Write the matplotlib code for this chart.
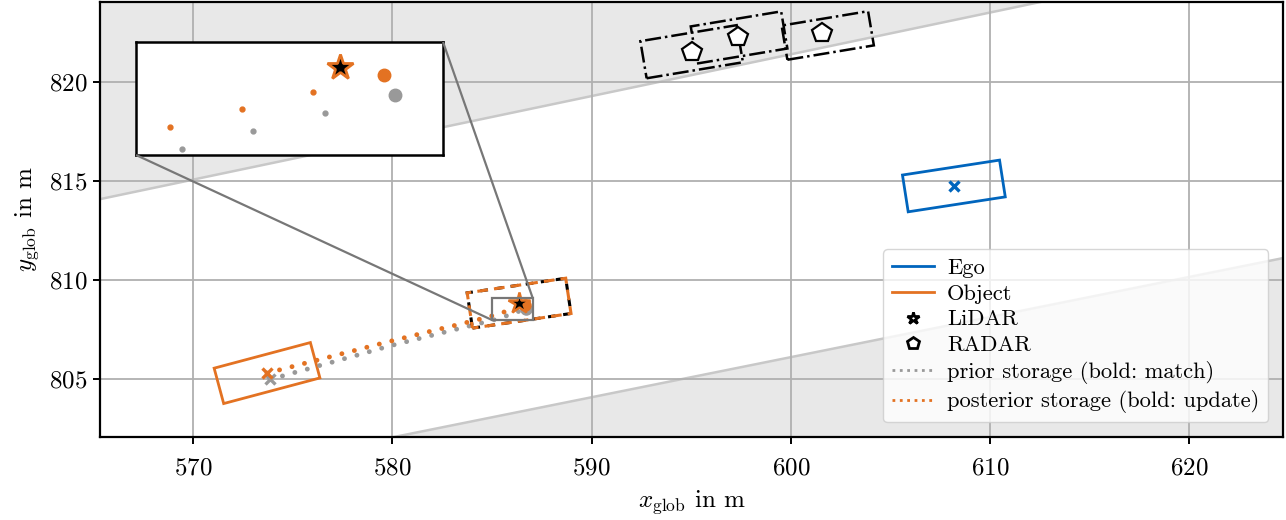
import matplotlib
matplotlib.use("Agg")
import matplotlib.pyplot as plt
from matplotlib.patches import Rectangle
from matplotlib.lines import Line2D
from mpl_toolkits.axes_grid1.inset_locator import mark_inset

plt.rcParams.update({
    "font.family": "serif",
    "font.serif": ["cmr10"],
    "mathtext.fontset": "cm",
    "axes.formatter.use_mathtext": True,
    "font.size": 18,
})

TUM_BLUE = "#0065BD"
TUM_ORANGE = "#E37222"
TUM_GRAY = "#999999"

# ---- scene data (global frame, metres) ----
x_lim = (565.33, 624.70)
y_lim = (802.07, 824.04)
x_ticks = [570, 580, 590, 600, 610, 620]
y_ticks = [805, 810, 815, 820]

# road boundaries
upper_edge_x = [560.0, 630.0]
upper_edge_y = [812.96, 827.73]
lower_edge_x = [575.0, 630.0]
lower_edge_y = [801.04, 812.18]

# ego vehicle: centre, length, width, heading in degrees
ego_center = (608.18, 814.75)
ego_size = (4.93, 1.88)
ego_heading = 8.8

# tracked object
obj_center = (573.71, 805.30)
obj_size = (5.00, 1.85)
obj_heading = 15.0
obj_prior_center = (573.86, 804.98)

# LiDAR detection
lidar_center = (586.36, 808.83)
lidar_size = (5.00, 1.80)
lidar_heading = 8.5

# RADAR detections: reflection points and fitted boxes
radar_x = [595.02, 597.35, 601.55]
radar_y = [821.53, 822.29, 822.46]
radar_box_x = [595.02, 597.40, 601.85]
radar_box_y = [821.53, 822.25, 822.35]
radar_len = [4.90, 4.60, 4.40]
radar_wid = [1.90, 1.90, 1.75]
radar_heading = [9.5, 9.5, 9.5]

# prior storage (last entry: match)
prior_x = [573.86, 574.34, 574.81, 575.29, 575.77, 576.24, 576.72, 577.20,
           577.67, 578.15, 578.63, 579.10, 579.58, 580.06, 580.53, 581.01,
           581.49, 581.96, 582.44, 582.92, 583.39, 583.87, 584.35, 584.83,
           585.31, 585.78, 586.26, 586.73]
prior_y = [804.98, 805.11, 805.25, 805.38, 805.51, 805.65, 805.78, 805.91,
           806.05, 806.18, 806.32, 806.45, 806.59, 806.72, 806.84, 806.96,
           807.08, 807.20, 807.32, 807.44, 807.56, 807.68, 807.80, 807.92,
           808.04, 808.21, 808.385, 808.56]

# posterior storage (last entry: update)
post_x = [573.71, 574.19, 574.67, 575.15, 575.63, 576.11, 576.59, 577.07,
          577.55, 578.03, 578.51, 578.99, 579.47, 579.95, 580.43, 580.91,
          581.39, 581.87, 582.35, 582.83, 583.31, 583.79, 584.27, 584.75,
          585.23, 585.71, 586.18, 586.655]
post_y = [805.30, 805.42, 805.55, 805.67, 805.80, 805.92, 806.05, 806.17,
          806.30, 806.42, 806.55, 806.67, 806.80, 806.92, 807.04, 807.16,
          807.28, 807.40, 807.52, 807.63, 807.75, 807.87, 807.99, 808.12,
          808.25, 808.42, 808.585, 808.75]

# zoomed window
zoom_xlim = (585.00, 587.05)
zoom_ylim = (807.98, 809.07)


def box(ax, center, size, heading, **kw):
    length, width = size
    rect = Rectangle((center[0] - length / 2, center[1] - width / 2),
                     length, width, angle=heading, rotation_point="center",
                     fill=False, **kw)
    ax.add_patch(rect)
    return rect


fig = plt.figure(figsize=(12.86, 5.20), dpi=100)
ax = fig.add_axes([0.0778, 0.1596, 0.9199, 0.8365])

# area outside the drivable corridor
ax.fill_between(upper_edge_x, upper_edge_y, [840, 840], color="#e8e8e8", lw=0, zorder=0.5)
ax.fill_between(lower_edge_x, [790, 790], lower_edge_y, color="#e8e8e8", lw=0, zorder=0.5)
ax.plot(upper_edge_x, upper_edge_y, color="#c8c8c8", lw=1.8, zorder=0.6)
ax.plot(lower_edge_x, lower_edge_y, color="#c8c8c8", lw=1.8, zorder=0.6)

ax.grid(True, color="#b0b0b0", lw=1.3)

# vehicles
box(ax, ego_center, ego_size, ego_heading, edgecolor=TUM_BLUE, lw=2.0, zorder=3)
ax.plot(*ego_center, marker="x", color=TUM_BLUE, ms=7, mew=2.4, zorder=4)
box(ax, obj_center, obj_size, obj_heading, edgecolor=TUM_ORANGE, lw=2.0, zorder=3)

# storages
dotted = dict(lw=3.5, linestyle=(0, (0.01, 2.64)), dash_capstyle="round")
ax.plot(prior_x, prior_y, color=TUM_GRAY, zorder=3, **dotted)
ax.plot(post_x, post_y, color=TUM_ORANGE, zorder=3, **dotted)
ax.plot(*obj_prior_center, marker="x", color=TUM_GRAY, ms=7, mew=2.4, zorder=4)
ax.plot(*obj_center, marker="x", color=TUM_ORANGE, ms=7, mew=2.4, zorder=4)
ax.plot(prior_x[-1], prior_y[-1], "o", color=TUM_GRAY, ms=8, zorder=4)
ax.plot(post_x[-1], post_y[-1], "o", color=TUM_ORANGE, ms=8, zorder=4)

# LiDAR
box(ax, lidar_center, lidar_size, lidar_heading, edgecolor="black", lw=2.2,
    linestyle=(0, (2.5, 2.5)), zorder=3)
box(ax, lidar_center, lidar_size, lidar_heading, edgecolor=TUM_ORANGE, lw=2.2,
    linestyle=(1.5, (3.5, 2.0)), zorder=3.1)
ax.plot(*lidar_center, marker="*", ms=16, mfc="black", mec=TUM_ORANGE, mew=1.8, zorder=5)

# RADAR
for cx, cy, ln, wd, hd in zip(radar_box_x, radar_box_y, radar_len, radar_wid, radar_heading):
    box(ax, (cx, cy), (ln, wd), hd, edgecolor="black", lw=1.8, linestyle="-.", zorder=3)
ax.plot(radar_x, radar_y, "p", ms=15, mfc="white", mec="black", mew=1.6, ls="none", zorder=4)

ax.set_xlim(*x_lim)
ax.set_ylim(*y_lim)
ax.set_xticks(x_ticks)
ax.set_yticks(y_ticks)
ax.set_xlabel(r"$x_{\mathrm{glob}}$ in m", labelpad=6)
ax.set_ylabel(r"$y_{\mathrm{glob}}$ in m", labelpad=6)
for s in ax.spines.values():
    s.set_linewidth(1.6)
ax.tick_params(width=1.4, length=5)
ax.tick_params(axis="x", pad=10)
ax.tick_params(axis="y", pad=4)

handles = [
    Line2D([], [], color=TUM_BLUE, lw=2),
    Line2D([], [], color=TUM_ORANGE, lw=2),
    Line2D([], [], color="black", marker="*", ls="none", ms=9, mfc="white", mew=2),
    Line2D([], [], color="black", marker="p", ls="none", ms=9, mfc="white", mew=2),
    Line2D([], [], color=TUM_GRAY, lw=2, ls=":"),
    Line2D([], [], color=TUM_ORANGE, lw=2, ls=":"),
]
labels = ["Ego", "Object", "LiDAR", "RADAR",
          "prior storage (bold: match)", "posterior storage (bold: update)"]
ax.legend(handles, labels, loc="lower right", labelspacing=0.27, handlelength=1.85,
          handletextpad=0.6, fontsize=16.2, borderaxespad=0.65)

# zoomed inset
axins = fig.add_axes([0.1058, 0.7019, 0.2387, 0.2173])
axins.plot(prior_x[:-1], prior_y[:-1], "o", color=TUM_GRAY, ms=3.5, ls="none")
axins.plot(post_x[:-1], post_y[:-1], "o", color=TUM_ORANGE, ms=3.5, ls="none")
axins.plot(prior_x[-1], prior_y[-1], "o", color=TUM_GRAY, ms=9)
axins.plot(post_x[-1], post_y[-1], "o", color=TUM_ORANGE, ms=9)
axins.plot(*lidar_center, marker="*", ms=19, mfc="black", mec=TUM_ORANGE, mew=2)
axins.set_xlim(*zoom_xlim)
axins.set_ylim(*zoom_ylim)
axins.set_xticks([])
axins.set_yticks([])
for s in axins.spines.values():
    s.set_linewidth(1.8)
mark_inset(ax, axins, loc1=1, loc2=3, fc="none", ec="#777777", lw=1.6, zorder=6)

fig.savefig("out.png", dpi=100)
